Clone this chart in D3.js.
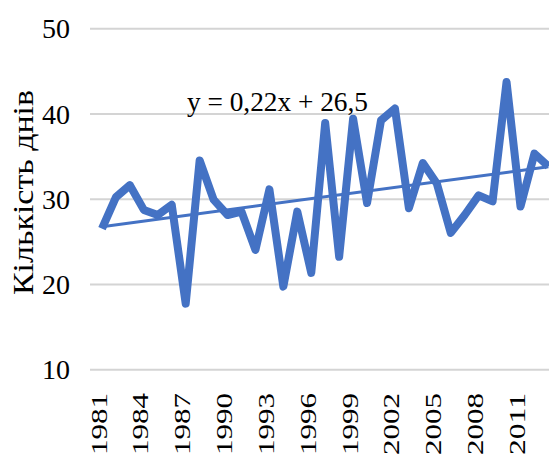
<!DOCTYPE html>
<html>
<head>
<meta charset="utf-8">
<script src="https://cdn.jsdelivr.net/npm/d3@7"></script>
<style>
  body { margin: 0; background: #fff; }
  svg { display: block; font-family: "Liberation Serif", "Times New Roman", serif; }
</style>
</head>
<body>
<div id="chart"></div>
<script>
// Дані: кількість днів по роках
const years = [1981, 1982, 1983, 1984, 1985, 1986, 1987, 1988, 1989, 1990, 1991,
  1992, 1993, 1994, 1995, 1996, 1997, 1998, 1999, 2000, 2001, 2002,
  2003, 2004, 2005, 2006, 2007, 2008, 2009, 2010, 2011, 2012, 2013];
const days = [26.5, 30.2, 31.6, 28.7, 28.1, 29.3, 17.7, 34.5, 29.9, 28.1, 28.5,
  24.0, 31.1, 19.7, 28.5, 21.3, 38.9, 23.2, 39.4, 29.5, 39.2, 40.6,
  28.9, 34.2, 31.8, 26.0, 28.1, 30.4, 29.7, 43.7, 29.1, 35.3, 33.8];
const tickYears = [1981, 1984, 1987, 1990, 1993, 1996, 1999, 2002, 2005, 2008, 2011];
const yTicks = [10, 20, 30, 40, 50];
const trendSlope = 0.22, trendIntercept = 26.5;
const trendLabel = "y = 0,22x + 26,5";
const yTitle = "Кількість днів";

const serif = "'Liberation Serif', 'Times New Roman', serif";
const width = 549, height = 457;
const gridLeft = 90;

const svg = d3.select("#chart")
  .append("svg")
  .attr("width", width)
  .attr("height", height);

let x = d3.scaleLinear()
  .domain([1981, 2013])
  .range([102, 548.4]);

let y = d3.scaleLinear()
  .domain([10, 50])
  .range([369.3, 28.3]);

// сітка + підписи осі Y
let yAxis = svg.append("g")
  .attr("transform", "translate(" + gridLeft + ",0)")
  .call(d3.axisLeft(y).tickValues(yTicks).tickSize(-(width - gridLeft + 5)).tickPadding(20))
  .attr("font-family", serif);
yAxis.select(".domain").remove();
yAxis.selectAll("line").attr("stroke", "#d4d4d4").attr("stroke-width", 2);
yAxis.selectAll("text")
  .attr("fill", "#000")
  .style("font-family", serif)
  .style("font-size", "28px")
  .attr("dy", "0.34em");

// підписи осі X
let xAxis = svg.append("g")
  .attr("transform", "translate(0,393)")
  .call(d3.axisBottom(x).tickValues(tickYears).tickFormat(d3.format("d")).tickSize(0))
  .attr("font-family", serif);
xAxis.select(".domain").remove();
xAxis.selectAll("text")
  .attr("fill", "#000")
  .style("font-family", serif)
  .style("font-size", "24px")
  .attr("text-anchor", "end")
  .attr("x", 0)
  .attr("y", 4)
  .attr("dy", 0)
  .attr("transform", "rotate(-90)")
  .attr("textLength", 62)
  .attr("lengthAdjust", "spacingAndGlyphs");

// назва осі Y
svg.append("text")
  .attr("transform", "translate(33,192.5) rotate(-90)")
  .attr("text-anchor", "middle")
  .style("font-size", "29px")
  .attr("textLength", 205)
  .attr("lengthAdjust", "spacingAndGlyphs")
  .text(yTitle);

// основна лінія
const line = d3.line()
  .x((d, i) => x(years[i]))
  .y(d => y(d));

svg.append("path")
  .datum(days)
  .attr("d", line)
  .attr("fill", "none")
  .attr("stroke", "#4472c4")
  .attr("stroke-width", 8)
  .attr("stroke-linejoin", "round");

// лінія тренду
const trendPts = [1, years.length].map(n => [years[n - 1], trendIntercept + trendSlope * n]);
svg.append("line")
  .attr("x1", x(trendPts[0][0]))
  .attr("y1", y(trendPts[0][1]))
  .attr("x2", x(trendPts[1][0]))
  .attr("y2", y(trendPts[1][1]))
  .attr("stroke", "#4472c4")
  .attr("stroke-width", 3);

svg.append("text")
  .attr("x", 187)
  .attr("y", 111)
  .style("font-size", "27px")
  .attr("textLength", 181)
  .attr("lengthAdjust", "spacingAndGlyphs")
  .text(trendLabel);
</script>
</body>
</html>
